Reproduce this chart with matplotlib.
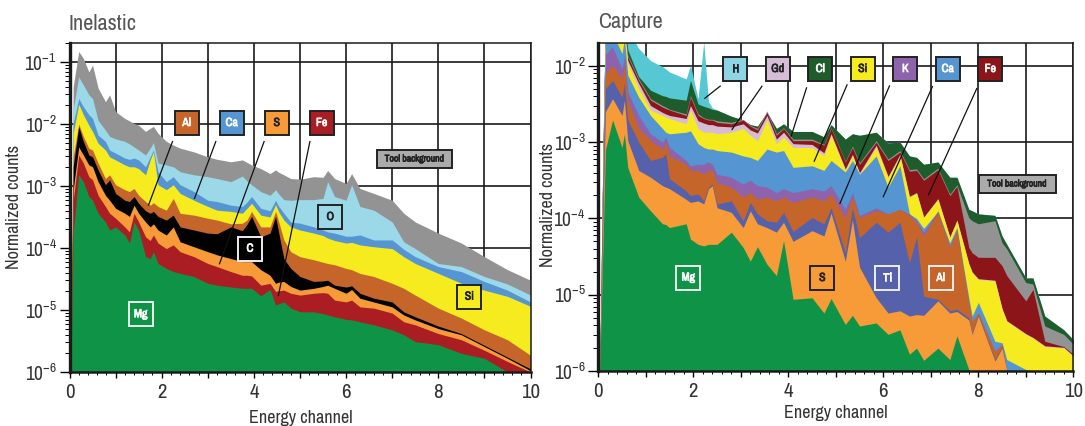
import matplotlib
matplotlib.use("Agg")
import numpy as np
import matplotlib.pyplot as plt
import matplotlib.patheffects as pe
from matplotlib.patches import Rectangle
from matplotlib.ticker import LogLocator, MultipleLocator, NullFormatter

plt.rcParams['font.family'] = ['Archivo Narrow', 'Roboto Condensed', 'Liberation Sans', 'DejaVu Sans']
plt.rcParams['mathtext.default'] = 'regular'

# inelastic panel, top of each stacked band as log10(normalized counts)
x_inel = [0.03, 0.08, 0.2, 0.3, 0.42, 0.5, 0.62, 0.78, 0.87, 1.0, 1.2, 1.3,
          1.4, 1.5, 1.65, 1.75, 1.82, 1.92, 2.1, 2.25, 2.4, 2.7, 3.0, 3.2,
          3.5, 3.75, 3.85, 3.95, 4.15, 4.35, 4.47, 4.54, 4.65, 4.8, 5.0, 5.3, 5.5, 5.6, 5.75,
          6.0, 6.12, 6.3, 6.6, 7.0, 7.25, 7.5, 8.0, 8.5, 9.0, 9.5, 10.0]
in_mg = [-6, -3.76, -2.82, -2.93, -3.17, -3.23, -3.44, -3.58, -3.71, -3.66, -3.79, -3.92,
         -3.58, -3.71, -4.14, -4.17, -4.06, -4.25, -4.33, -4.38, -4.41, -4.46, -4.57, -4.60,
         -4.63, -4.65, -4.65, -4.65, -4.77, -4.67, -4.92, -4.90, -4.87, -4.97, -5.03, -5.03, -5.06, -5.08, -5.11,
         -5.15, -5.16, -5.19, -5.24, -5.32, -5.40, -5.51, -5.56, -5.70, -5.78, -6, -6]
in_fe = [-6, -3.23, -2.5, -2.63, -2.85, -2.90, -3.15, -3.33, -3.44, -3.52, -3.66, -3.74,
         -3.44, -3.58, -3.82, -3.88, -3.79, -3.92, -4.01, -3.95, -4.06, -4.14, -4.25, -4.30,
         -4.38, -4.44, -4.44, -4.45, -4.60, -4.57, -4.70, -4.69, -4.68, -4.73, -4.76, -4.73, -4.72, -4.73, -4.84,
         -4.87, -4.84, -4.95, -4.97, -5.05, -5.19, -5.24, -5.38, -5.48, -5.65, -5.83, -6]
in_s = [-6, -3.06, -2.37, -2.5, -2.66, -2.69, -2.93, -3.15, -3.23, -3.36, -3.44, -3.49,
        -3.31, -3.44, -3.58, -3.66, -3.61, -3.71, -3.79, -3.66, -3.90, -3.98, -4.06, -4.11,
        -4.17, -4.22, -4.22, -4.22, -4.35, -4.44, -4.57, -4.55, -4.54, -4.62, -4.68, -4.65, -4.62, -4.60, -4.65,
        -4.73, -4.67, -4.81, -4.87, -4.95, -5.08, -5.16, -5.30, -5.40, -5.59, -5.78, -5.98]
in_c = [-6, -2.69, -2.04, -2.28, -2.5, -2.53, -2.74, -2.98, -2.90, -3.12, -3.23, -3.25,
        -3.17, -3.28, -3.40, -3.44, -3.41, -3.49, -3.55, -3.47, -3.66, -3.71, -3.76, -3.77,
        -3.66, -3.72, -3.62, -3.49, -3.82, -3.76, -3.49, -3.76, -4.17, -4.33, -4.46, -4.54, -4.53, -4.52, -4.60,
        -4.63, -4.61, -4.73, -4.81, -4.87, -5.03, -5.11, -5.26, -5.38, -5.57, -5.76, -5.95]
in_al = [-6, -2.53, -2.0, -2.2, -2.39, -2.42, -2.63, -2.88, -2.82, -2.98, -3.06, -3.09,
         -3.04, -3.15, -3.25, -3.31, -3.27, -3.33, -3.39, -3.20, -3.44, -3.47, -3.52, -3.55,
         -3.61, -3.60, -3.55, -3.41, -3.66, -3.66, -3.41, -3.58, -3.87, -4.06, -4.14, -4.19, -4.23, -4.25, -4.27,
         -4.33, -4.35, -4.41, -4.46, -4.57, -4.65, -4.76, -4.97, -5.13, -5.32, -5.48, -5.73]
in_si = [-6, -2.15, -1.68, -1.85, -2.02, -2.12, -2.31, -2.42, -2.53, -2.58, -2.66, -2.69,
         -2.69, -2.72, -2.82, -2.58, -2.45, -2.98, -3.06, -2.98, -3.12, -3.23, -3.33, -3.39,
         -3.41, -3.44, -3.36, -3.28, -3.47, -3.50, -3.30, -3.42, -3.55, -3.66, -3.71, -3.76, -3.80, -3.84, -3.88,
         -3.92, -3.91, -3.95, -3.98, -4.01, -4.14, -4.25, -4.41, -4.57, -4.68, -4.78, -4.94]
in_ca = [-6, -1.99, -1.59, -1.72, -1.85, -1.91, -2.18, -2.28, -2.42, -2.47, -2.55, -2.57,
         -2.55, -2.58, -2.69, -2.53, -2.42, -2.77, -2.93, -2.85, -2.98, -3.09, -3.23, -3.25,
         -3.31, -3.33, -3.26, -3.17, -3.36, -3.40, -3.23, -3.33, -3.44, -3.58, -3.60, -3.66, -3.71, -3.74, -3.76,
         -3.81, -3.81, -3.79, -3.87, -3.87, -4.02, -4.14, -4.30, -4.38, -4.54, -4.68, -4.87]
in_o = [-6, -1.77, -1.24, -1.37, -1.53, -1.59, -1.94, -2.10, -2.2, -2.24, -2.28, -2.32,
        -2.37, -2.42, -2.5, -2.39, -2.30, -2.63, -2.66, -2.69, -2.77, -2.82, -2.85, -2.88,
        -2.93, -2.84, -2.92, -2.98, -3.09, -3.15, -3.06, -3.13, -3.22, -3.23, -3.22, -3.22, -3.20, -2.93, -3.17,
        -3.23, -2.98, -3.33, -3.39, -3.58, -3.90, -4.01, -4.25, -4.30, -4.46, -4.58, -4.76]
in_bg = [-6, -1.40, -0.83, -0.94, -1.16, -1.05, -1.42, -1.64, -1.53, -1.80, -1.91, -1.95,
         -1.99, -2.02, -2.12, -2.07, -2.04, -2.15, -2.28, -2.34, -2.39, -2.45, -2.53, -2.57,
         -2.61, -2.58, -2.62, -2.66, -2.72, -2.80, -2.74, -2.78, -2.82, -2.88, -2.89, -2.85, -2.86, -2.75, -2.88,
         -2.96, -2.80, -3.04, -3.12, -3.23, -3.44, -3.58, -3.76, -3.92, -4.14, -4.35, -4.52]

# capture panel, same idea
x_capt = [0.03, 0.1, 0.15, 0.3, 0.5, 0.55, 0.62, 0.85, 1.1, 1.35, 1.42, 1.5, 1.85, 1.94,
          2.1, 2.22, 2.32, 2.4, 2.5, 2.8, 3.05, 3.2, 3.35, 3.55, 3.75, 3.9, 4.1,
          4.5, 4.75, 4.9, 5.2, 5.35, 5.5, 5.85, 6.1, 6.35, 6.55, 6.7, 6.85, 7.15,
          7.4, 7.55, 7.8, 7.87, 8.0, 8.35, 8.5, 8.6, 9.0, 9.15, 9.4, 9.8, 10.0]
ca_mg = [-6, -4.30, -3.10, -2.71, -3.07, -2.89, -3.33, -3.72, -3.90, -4.07, -4.08, -4.12, -4.07, -4.27,
         -4.34, -4.36, -4.34, -4.34, -4.34, -4.18, -4.38, -4.56, -4.37, -4.60, -4.75, -4.29, -5.06,
         -5.04, -5.24, -5.05, -5.39, -5.27, -5.41, -5.37, -5.52, -5.46, -5.78, -5.70, -5.86, -5.70,
         -5.85, -5.54, -5.98, -6, -6, -6, -6, -6, -6, -6, -6, -6, -6]
ca_s = [-6, -4.00, -2.60, -2.43, -2.65, -2.45, -2.98, -3.37, -3.46, -3.57, -3.59, -3.61, -3.75, -3.79,
        -3.77, -3.81, -3.61, -3.57, -3.86, -3.92, -4.12, -3.90, -4.07, -4.12, -4.18, -4.05, -4.30,
        -4.16, -4.23, -3.93, -4.56, -4.02, -4.64, -5.04, -5.24, -5.21, -5.28, -5.26, -5.27, -5.08,
        -5.24, -5.22, -5.33, -5.52, -5.28, -5.87, -5.70, -6, -6, -6, -6, -6, -6]
ca_ti = [-6, -3.70, -2.30, -2.19, -2.41, -2.23, -2.71, -3.0, -3.24, -3.20, -3.15, -3.48, -3.64, -3.70,
         -3.68, -3.77, -3.59, -3.55, -3.81, -3.77, -4.03, -3.79, -3.94, -4.03, -4.05, -3.92, -4.17,
         -3.99, -4.07, -3.86, -4.45, -3.86, -4.25, -4.05, -4.18, -4.05, -4.58, -4.24, -5.02, -5.06,
         -5.21, -5.19, -5.30, -5.50, -5.26, -5.85, -5.68, -6, -6, -6, -6, -6, -6]
ca_al = [-6, -3.50, -2.10, -1.99, -2.17, -1.97, -2.45, -2.82, -2.98, -3.09, -3.02, -3.18, -3.29, -3.37,
         -3.37, -3.42, -3.37, -3.37, -3.53, -3.59, -3.72, -3.66, -3.75, -3.72, -3.77, -3.72, -3.79,
         -3.72, -3.77, -3.68, -3.99, -3.72, -3.99, -3.90, -3.94, -3.88, -3.96, -4.05, -4.23, -3.92,
         -4.38, -4.16, -5.11, -5.35, -5.24, -5.74, -5.65, -6, -6, -6, -6, -6, -6]
ca_k = [-6, -3.40, -1.85, -1.75, -2.04, -1.86, -2.34, -2.65, -2.89, -3.0, -2.93, -3.07, -3.24, -3.31,
        -3.29, -3.29, -3.26, -3.29, -3.42, -3.46, -3.55, -3.50, -3.57, -3.59, -3.66, -3.61, -3.66,
        -3.61, -3.64, -3.57, -3.88, -3.66, -3.96, -3.86, -3.94, -3.88, -3.94, -4.03, -4.18, -3.90,
        -4.36, -4.14, -5.11, -5.35, -5.24, -5.74, -5.65, -6, -6, -6, -6, -6, -6]
ca_ca = [-6, -3.30, -1.70, -1.57, -1.84, -1.64, -2.12, -2.41, -2.65, -2.82, -2.87, -2.89, -2.87, -2.85,
         -3.02, -3.07, -3.09, -3.09, -3.11, -3.13, -3.18, -3.20, -3.24, -3.09, -3.13, -3.11, -3.33,
         -3.31, -3.37, -3.24, -3.39, -3.24, -3.42, -3.18, -3.59, -3.31, -3.94, -4.0, -4.13, -3.91,
         -4.32, -4.12, -5.04, -5.28, -5.10, -5.61, -5.63, -5.85, -5.98, -6, -6, -6, -6]
ca_si = [-6, -3.20, -1.55, -1.44, -1.70, -1.53, -1.97, -2.30, -2.58, -2.65, -2.67, -2.69, -2.76, -2.58,
         -2.82, -2.87, -2.87, -2.87, -2.89, -2.87, -2.82, -2.91, -2.98, -2.71, -3.02, -2.93, -3.07,
         -3.07, -3.18, -2.91, -3.37, -3.18, -3.42, -3.07, -3.46, -3.18, -3.72, -3.67, -3.99, -3.75,
         -4.25, -4.03, -4.60, -4.71, -4.80, -4.82, -5.19, -5.35, -5.52, -5.57, -5.68, -5.70, -5.81]
ca_gd = [-6, -3.15, -1.50, -1.40, -1.66, -1.49, -1.93, -2.23, -2.52, -2.61, -2.63, -2.65, -2.69, -2.52,
         -2.72, -2.75, -2.77, -2.77, -2.79, -2.80, -2.76, -2.84, -2.88, -2.65, -2.96, -2.87, -3.02,
         -3.03, -3.14, -2.89, -3.35, -3.16, -3.40, -3.04, -3.45, -3.16, -3.71, -3.66, -3.98, -3.74,
         -4.24, -4.02, -4.59, -4.70, -4.79, -4.81, -5.18, -5.34, -5.51, -5.56, -5.67, -5.69, -5.80]
ca_fe = [-6, -3.10, -1.45, -1.36, -1.62, -1.44, -1.88, -2.19, -2.45, -2.54, -2.56, -2.58, -2.65, -2.41,
         -2.65, -2.69, -2.71, -2.71, -2.74, -2.76, -2.71, -2.79, -2.84, -2.61, -2.91, -2.82, -2.98,
         -2.98, -3.04, -2.82, -3.26, -3.07, -3.29, -3.0, -3.24, -3.13, -3.38, -3.37, -3.50, -3.36,
         -3.70, -3.58, -4.38, -4.45, -4.51, -4.51, -4.62, -4.75, -5.08, -4.93, -5.61, -5.68, -5.78]
ca_bg = [-6, -3.10, -1.43, -1.34, -1.60, -1.43, -1.86, -2.17, -2.43, -2.52, -2.54, -2.57, -2.63, -2.39,
         -2.63, -2.68, -2.70, -2.70, -2.72, -2.74, -2.70, -2.78, -2.82, -2.59, -2.89, -2.81, -2.96,
         -2.96, -3.03, -2.81, -3.25, -3.05, -3.27, -2.98, -3.22, -3.11, -3.36, -3.35, -3.48, -3.34,
         -3.68, -3.56, -3.99, -4.03, -4.07, -4.03, -4.32, -4.40, -4.84, -4.86, -5.41, -5.52, -5.65]
ca_cl = [-6, -3.05, -1.40, -1.31, -1.55, -1.38, -1.79, -2.14, -2.32, -2.39, -2.40, -2.42, -2.45, -2.19,
         -2.50, -2.53, -2.55, -2.57, -2.58, -2.66, -2.71, -2.77, -2.79, -2.61, -2.82, -2.76, -2.86,
         -2.86, -2.93, -2.77, -2.96, -2.89, -2.91, -2.87, -3.01, -3.0, -3.18, -3.20, -3.29, -3.26,
         -3.46, -3.46, -3.88, -3.90, -3.94, -3.96, -4.23, -4.34, -4.78, -4.78, -5.28, -5.46, -5.59]
ca_h = [-6, -3.00, -1.30, -1.22, -1.40, -1.27, -1.53, -1.77, -1.93, -2.01, -2.04, -2.08, -2.17, -1.99,
        -2.43, -1.68, -2.47, -2.55, -2.58, -2.66, -2.71, -2.77, -2.79, -2.61, -2.82, -2.76, -2.86,
        -2.86, -2.93, -2.77, -2.96, -2.89, -2.91, -2.87, -3.01, -3.0, -3.18, -3.20, -3.29, -3.26,
        -3.46, -3.46, -3.88, -3.90, -3.94, -3.96, -4.23, -4.34, -4.78, -4.78, -5.28, -5.46, -5.59]

GREEN = '#0f9447'
RED = '#aa1e23'
ORANGE = '#f79a38'
BROWN = '#c5652a'
YELLOW = '#f5eb1e'
BLUE = '#5596d2'
LBLUE = '#9bd8e8'
GREY = '#939393'
INDIGO = '#5561ab'
PURPLE = '#8e63ac'
LILAC = '#d5bdd8'
MAROON = '#8c1519'
DGREEN = '#1e5c2c'
CYAN = '#55c8d4'
INK = '#333333'


def stack(ax, x, layers):
    # painted top band first, each one reaches down to the axis
    for tops, color in reversed(layers):
        ax.fill_between(x, 1e-6, 10.0 ** np.array(tops), color=color, lw=0)


def style(ax, ytop):
    ax.set_yscale('log')
    ax.set_xlim(0, 10)
    ax.set_ylim(1e-6, ytop)
    ax.xaxis.set_major_locator(MultipleLocator(1))
    ax.xaxis.set_minor_locator(MultipleLocator(0.2))
    ax.set_xticklabels([])
    for t in [0, 2, 4, 6, 8, 10]:
        ax.text(t, -0.0615, str(t), transform=ax.get_xaxis_transform(), ha='center', va='center',
                fontsize=15, color=INK)
    ax.yaxis.set_major_locator(LogLocator(base=10, numticks=8))
    ax.yaxis.set_minor_locator(LogLocator(base=10, subs=np.arange(2, 10), numticks=8))
    ax.yaxis.set_minor_formatter(NullFormatter())
    ax.tick_params(axis='y', which='major', length=7, width=1, labelsize=14, pad=2, labelcolor=INK)
    ax.tick_params(axis='y', which='minor', length=3.5, width=0.7)
    ax.tick_params(axis='x', which='major', length=4, width=1)
    ax.tick_params(axis='x', which='minor', length=2, width=0.7)
    ax.grid(True, which='major', color='#1a1a1a', lw=1.2)
    ax.set_axisbelow(True)
    ax.spines['left'].set_linewidth(2.4)
    ax.spines['bottom'].set_linewidth(1.8)
    ax.spines['top'].set_linewidth(1.1)
    ax.spines['right'].set_linewidth(1.1)
    for sp in ax.spines.values():
        sp.set_edgecolor('#1a1a1a')


fig = plt.figure(figsize=(10.85, 4.26), dpi=100)
W, H = 1085.0, 426.0

ax1 = fig.add_axes([69.5 / W, (H - 372) / H, 461 / W, 329 / H])
stack(ax1, x_inel, [(in_mg, GREEN), (in_fe, RED), (in_s, ORANGE), (in_c, 'black'), (in_al, BROWN),
                    (in_si, YELLOW), (in_ca, BLUE), (in_o, LBLUE), (in_bg, GREY)])
style(ax1, 10 ** -0.694)

ax2 = fig.add_axes([598.3 / W, (H - 371) / H, 475 / W, 328 / H])
stack(ax2, x_capt, [(ca_mg, GREEN), (ca_s, ORANGE), (ca_ti, INDIGO), (ca_al, BROWN), (ca_k, PURPLE),
                    (ca_ca, BLUE), (ca_si, YELLOW), (ca_gd, LILAC), (ca_fe, MAROON), (ca_bg, GREY),
                    (ca_cl, DGREEN), (ca_h, CYAN)])
style(ax2, 10 ** -1.70)

# titles and labels sit on a full figure overlay in pixel coordinates, same as the tags
over = fig.add_axes([0, 0, 1, 1], zorder=10)
over.set_xlim(0, W)
over.set_ylim(H, 0)
over.axis('off')


def tag(cx, cy, text, face, edge='#222222', tc='#222222', w=24, h=24, size=8.5):
    over.add_patch(Rectangle((cx - w / 2, cy - h / 2), w, h, facecolor=face, edgecolor=edge, lw=1.4))
    t = over.text(cx, cy, text, ha='center', va='center', fontsize=size, color=tc)
    t.set_path_effects([pe.withStroke(linewidth=0.5, foreground=tc)])


def leader(x0, y0, x1, y1):
    over.plot([x0, x1], [y0, y1], color='#111111', lw=0.9, solid_capstyle='butt')


over.text(69, 24, 'Inelastic', fontsize=16, color='#555555', va='center')
over.text(598, 22, 'Capture', fontsize=16, color='#555555', va='center')
over.text(14, 207, 'Normalized counts', rotation=90, fontsize=13, color=INK, ha='center', va='center')
over.text(548, 205, 'Normalized counts', rotation=90, fontsize=13, color=INK, ha='center', va='center')
over.text(301, 418, 'Energy channel', fontsize=13, color=INK, ha='center', va='center')
over.text(836, 413, 'Energy channel', fontsize=13, color=INK, ha='center', va='center')

tag(186.7, 123, 'Al', BROWN, tc='white')
tag(231.7, 123, 'Ca', BLUE, tc='white')
tag(276.7, 123, 'S', ORANGE)
tag(321.7, 123, 'Fe', RED, tc='white')
tag(140.7, 314.3, 'Mg', GREEN, edge='#eeeeee', tc='white')
tag(250, 248.7, 'C', 'black', edge='#eeeeee', tc='white')
tag(330.3, 217, 'O', LBLUE)
tag(469.3, 296.7, 'Si', YELLOW)
tag(414.5, 159, 'Tool background', '#ababab', w=75, h=18, size=7)
leader(172.7, 141, 148.3, 205.7)
leader(216, 141, 194.3, 199)
leader(264.3, 141, 219.3, 264.3)
leader(310, 141, 278.3, 296)

tag(735.3, 69, 'H', '#8dd4e4')
tag(777.7, 69, 'Gd', LILAC)
tag(820.3, 69, 'Cl', DGREEN, tc='white')
tag(862.7, 69, 'Si', YELLOW)
tag(905.3, 69, 'K', PURPLE, tc='white')
tag(947.7, 69, 'Ca', BLUE, tc='white')
tag(990.3, 69, 'Fe', MAROON, tc='white')
tag(688.3, 277.7, 'Mg', GREEN, edge='#eeeeee', tc='white')
tag(822.3, 278, 'S', ORANGE)
tag(887.3, 278, 'Ti', INDIGO, edge='#eeeeee', tc='white')
tag(940.7, 278, 'Al', BROWN, edge='#eeeeee', tc='white')
tag(1017, 184, 'Tool background', '#ababab', w=77, h=18, size=7)
leader(720.7, 85.7, 704.3, 98.7)
leader(762.3, 85.7, 731.7, 130)
leader(806.7, 87.3, 791, 136.7)
leader(847.3, 84.3, 814, 161.7)
leader(889.7, 85.3, 839.7, 204)
leader(932.7, 86, 883, 197.3)
leader(977, 88, 928.3, 195.3)

fig.savefig('out.png', dpi=100)
